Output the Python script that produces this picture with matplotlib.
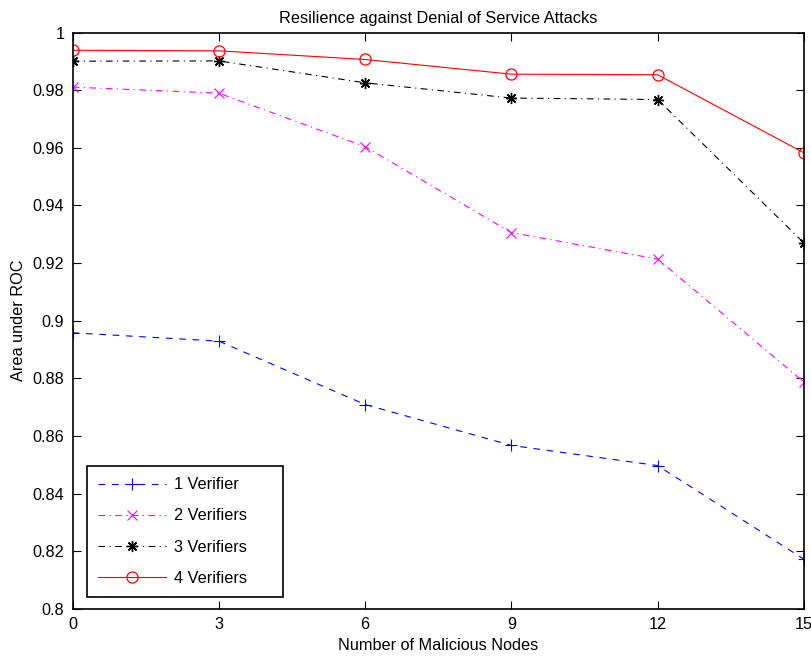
import numpy as np
import matplotlib.pyplot as plt

plt.rcParams['font.family'] = ['Liberation Sans', 'DejaVu Sans']

malicious_nodes = [0, 3, 6, 9, 12, 15]
auc_1_verifier = [0.8958, 0.8929, 0.8709, 0.8567, 0.8497, 0.8172]
auc_2_verifiers = [0.9811, 0.9790, 0.9604, 0.9306, 0.9214, 0.8787]
auc_3_verifiers = [0.9901, 0.9902, 0.9826, 0.9773, 0.9768, 0.9270]
auc_4_verifiers = [0.9939, 0.9937, 0.9907, 0.9856, 0.9854, 0.9583]

fs = 11.7

fig = plt.figure(figsize=(8.12, 6.59), dpi=100)
ax = fig.add_axes([0.0895, 0.0763, 0.9005, 0.8741])

ax.plot(malicious_nodes, auc_1_verifier, color='#0000ff', linestyle=(0, (6, 6)),
        linewidth=0.8, marker='+', markersize=9, markeredgewidth=0.8, label='1 Verifier')
ax.plot(malicious_nodes, auc_2_verifiers, color='#ff00ff', linestyle=(0, (6, 4, 1, 4)),
        linewidth=0.8, marker='x', markersize=7, markeredgewidth=0.8, label='2 Verifiers')
ax.plot(malicious_nodes, auc_3_verifiers, color='black', linestyle=(0, (6, 4, 1, 4)),
        linewidth=0.8, marker=(8, 2, 0), markersize=8, markeredgewidth=1.0, label='3 Verifiers')
ax.plot(malicious_nodes, auc_4_verifiers, color='#ff0000', linestyle='-',
        linewidth=0.8, marker='o', markersize=8, markerfacecolor='none',
        markeredgewidth=0.9, label='4 Verifiers')

ax.set_xlim(0, 15)
ax.set_ylim(0.8, 1.0)
ax.set_xticks(malicious_nodes)
ax.set_yticks(np.arange(0.8, 1.001, 0.02))
ax.set_yticklabels(['0.8', '0.82', '0.84', '0.86', '0.88', '0.9',
                    '0.92', '0.94', '0.96', '0.98', '1'])
ax.tick_params(direction='in', top=True, right=True, length=6, width=0.8,
               labelsize=fs, pad=6)
for spine in ax.spines.values():
    spine.set_linewidth(1.2)

ax.set_title('Resilience against Denial of Service Attacks', fontsize=fs, pad=7)
ax.set_xlabel('Number of Malicious Nodes', fontsize=fs, labelpad=4)
ax.set_ylabel('Area under ROC', fontsize=fs, labelpad=5)

# legend box stretched to a fixed width, like the MATLAB default
leg = ax.legend(loc='lower left', bbox_to_anchor=(0.0196, 0.0203, 0.268, 0.2),
                mode='expand', fontsize=fs, handlelength=4.2, fancybox=False,
                framealpha=1, edgecolor='black', borderpad=0.68, labelspacing=1.0,
                handletextpad=0.45, borderaxespad=0)
leg.get_frame().set_linewidth(1.2)

fig.savefig('out.png', dpi=100)
